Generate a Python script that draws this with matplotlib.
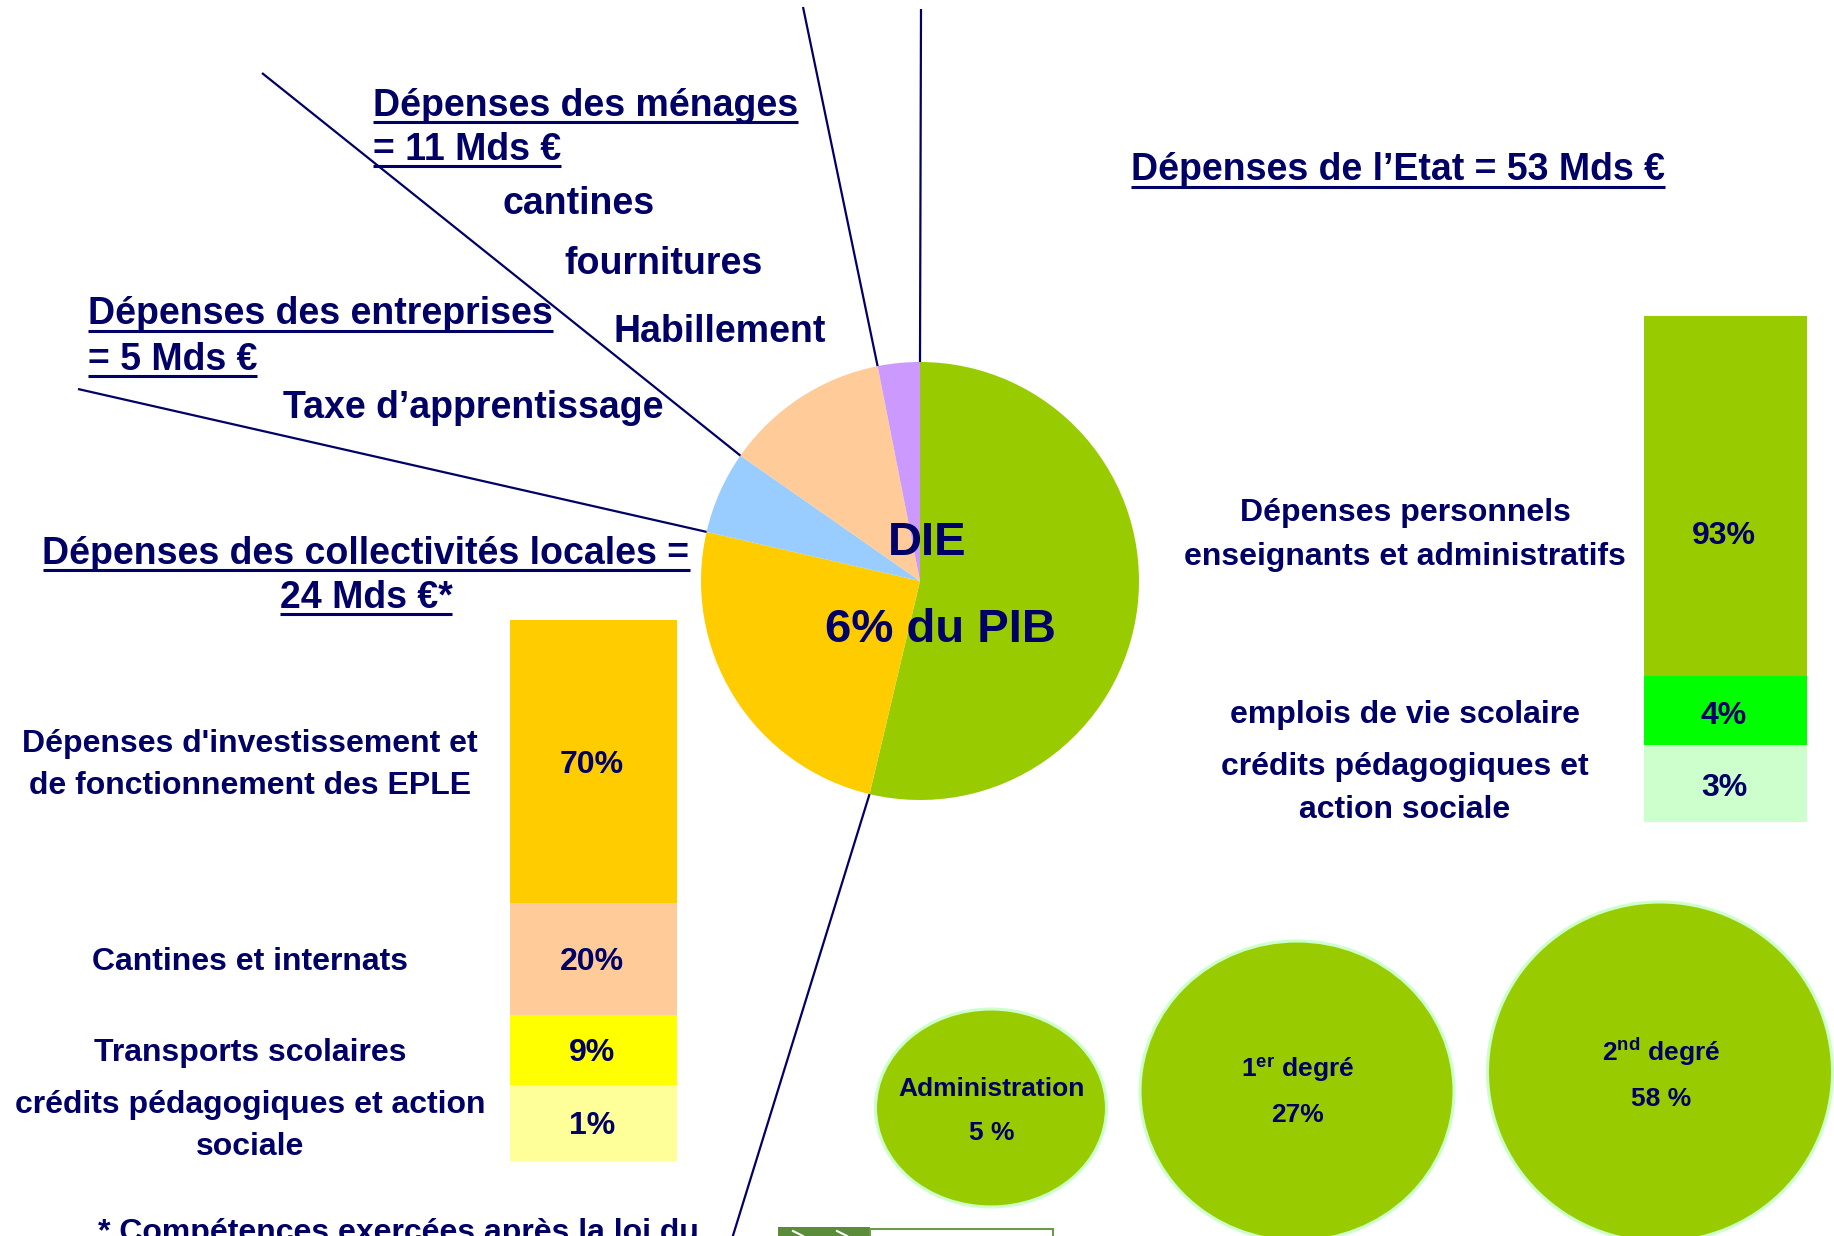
import math
import matplotlib
matplotlib.use('Agg')
import matplotlib.pyplot as plt
from matplotlib.patches import Ellipse, Rectangle

plt.rcParams['font.family'] = ['Liberation Sans', 'DejaVu Sans']
plt.rcParams['font.weight'] = 'bold'
plt.rcParams['mathtext.fontset'] = 'custom'
plt.rcParams['mathtext.rm'] = 'Liberation Sans:bold'
plt.rcParams['mathtext.it'] = 'Liberation Sans:bold'
plt.rcParams['mathtext.bf'] = 'Liberation Sans:bold'

NAVY = '#000066'
W, H = 1834, 1236

# pie: part of the DIE by funder (angles)
pie_names = ['Etat', 'Collectivités locales', 'Entreprises', 'Ménages', 'Autres']
pie_shares = [53.7, 24.9, 6.1, 12.2, 3.1]
pie_colors = ['#99CC00', '#FFCC00', '#99CCFF', '#FFCC99', '#CC99FF']

# collectivités locales breakdown
coll_labels = [["Dépenses d'investissement et", "de fonctionnement des EPLE"],
               ["Cantines et internats"],
               ["Transports scolaires"],
               ["crédits pédagogiques et action", "sociale"]]
coll_pct = ['70%', '20%', '9%', '1%']
coll_drawn = [52.3, 20.7, 12.9, 14.1]   # segment heights as drawn in the bar
coll_colors = ['#FFCC00', '#FFCC99', '#FFFF00', '#FFFF99']

# Etat breakdown
etat_labels = [["Dépenses personnels", "enseignants et administratifs"],
               ["emplois de vie scolaire"],
               ["crédits pédagogiques et", "action sociale"]]
etat_pct = ['93%', '4%', '3%']
etat_drawn = [71.2, 13.6, 15.2]
etat_colors = ['#99CC00', '#00FF00', '#CCFFCC']

# Etat by level
level_names = ['Administration', r'1$^{\rm er}$ degré', r'2$^{\rm nd}$ degré']
level_pct = ['5 %', '27%', '58 %']

# layout (pixels)
PIE_C, PIE_R = (920, 581), 219
level_ell = [(991, 1108, 231, 198), (1297, 1091, 314, 300), (1660, 1072, 345, 340)]
level_text_dy = [(-21, 23), (-23, 21), (-20, 25)]


def px_rect(x, y, w, h):
    return [x / W, 1 - (y + h) / H, w / W, h / H]


fig = plt.figure(figsize=(W / 100, H / 100), dpi=100)

# pie
axp = fig.add_axes(px_rect(PIE_C[0] - PIE_R, PIE_C[1] - PIE_R, 2 * PIE_R, 2 * PIE_R))
axp.pie(pie_shares, colors=pie_colors, startangle=90, counterclock=False,
        radius=1, wedgeprops=dict(linewidth=0))
axp.set_xlim(-1, 1)
axp.set_ylim(-1, 1)
axp.axis('off')


# stacked bars
def stacked(rect, drawn, colors):
    a = fig.add_axes(px_rect(*rect))
    bottom = 0
    mids = []
    for h, c in zip(drawn, colors):
        a.bar(0, h, bottom=bottom, width=1, color=c, linewidth=0)
        mids.append(bottom + h / 2)
        bottom += h
    a.set_xlim(-0.5, 0.5)
    a.set_ylim(bottom, 0)
    a.axis('off')
    return a, mids


axl, mids_l = stacked((510, 620, 167, 541), coll_drawn, coll_colors)
axr, mids_r = stacked((1644, 316, 163, 506), etat_drawn, etat_colors)

# overlay for texts and leader lines
ax = fig.add_axes([0, 0, 1, 1])
ax.set_xlim(0, W)
ax.set_ylim(H, 0)
ax.axis('off')
ax.patch.set_alpha(0)

under = []


def put(x, yc, s, size, ha='center', underline=False):
    em = size * 100 / 72
    yb = yc + 0.36 * em
    t = ax.text(x, yb, s, fontsize=size, ha=ha, va='baseline', color=NAVY,
                fontweight='bold')
    if underline:
        under.append((t, yb + 0.17 * em))
    return t


# leader lines from the slice borders
ends = [(731, 1242), (78, 389), (262, 73), (803, 7), (921, 9)]
ang = 90
bounds = []
for s in pie_shares:
    ang -= s * 3.6
    bounds.append(ang)
for a, (ex, ey) in zip(bounds, ends):
    sx = PIE_C[0] + PIE_R * math.cos(math.radians(a))
    sy = PIE_C[1] - PIE_R * math.sin(math.radians(a))
    ax.plot([sx, ex], [sy, ey], color=NAVY, lw=1.6, solid_capstyle='butt')

# headings
put(373, 102, "Dépenses des ménages", 27, ha='left', underline=True)
put(373, 146, "= 11 Mds €", 27, ha='left', underline=True)
put(88, 311, "Dépenses des entreprises", 27, ha='left', underline=True)
put(88, 356, "= 5 Mds €", 27, ha='left', underline=True)
put(366, 550, "Dépenses des collectivités locales =", 27, underline=True)
put(366, 594, "24 Mds €*", 27, underline=True)
put(1131, 167, "Dépenses de l’Etat = 53 Mds €", 27, ha='left', underline=True)

put(503, 200, "cantines", 27, ha='left')
put(564, 261, "fournitures", 27, ha='left')
put(613, 329, "Habillement", 27, ha='left')
put(283, 405, "Taxe d’apprentissage", 27, ha='left')

put(927, 538, "DIE", 34)
put(940, 625, "6% du PIB", 34)

# left bar labels
bar_top, bar_h = 620, 541
for lines, pct, m in zip(coll_labels, coll_pct, mids_l):
    yc = bar_top + m / sum(coll_drawn) * bar_h
    put(592, yc, pct, 23)
    n = len(lines)
    for i, s in enumerate(lines):
        off = (i - (n - 1) / 2) * 42 if n > 1 else 0
        put(250, yc + off, s, 23)

# right bar labels
etat_y = [532, 712, 784]
etat_label_y = [[510, 553], [712], [764, 806]]
for pct, y in zip(etat_pct, etat_y):
    put(1724, y, pct, 23)
for lines, ys in zip(etat_labels, etat_label_y):
    for s, y in zip(lines, ys):
        put(1405, y, s, 23)

# level ellipses
for (cx, cy, w, h), name, pct, (d1, d2) in zip(level_ell, level_names,
                                                level_pct, level_text_dy):
    ax.add_patch(Ellipse((cx, cy), w, h, facecolor='#99CC00',
                         edgecolor='#CCFFCC', lw=2.2))
    put(cx + 1, cy + d1, name, 19)
    put(cx + 1, cy + d2, pct, 19)

# footnote (cut off at the bottom edge, as in the source)
ax.text(98, 1241, "* Compétences exercées après la loi du", fontsize=23,
        ha='left', va='baseline', color=NAVY, fontweight='bold')

# small logo box at the bottom
ax.add_patch(Rectangle((778, 1227), 92, 15, facecolor='#5B8C3A', lw=0))
ax.add_patch(Rectangle((870, 1229), 183, 12, facecolor='white',
                       edgecolor='#6A9A4A', lw=1.5))
for x0 in (793, 837):
    ax.plot([x0, x0 + 10], [1231, 1236], color='white', lw=1.5)

# underlines
fig.canvas.draw()
r = fig.canvas.get_renderer()
inv = ax.transData.inverted()
for t, yu in under:
    bb = t.get_window_extent(r)
    x0, _ = inv.transform((bb.x0, bb.y0))
    x1, _ = inv.transform((bb.x1, bb.y0))
    ax.plot([x0, x1], [yu, yu], color=NAVY, lw=2.2, solid_capstyle='butt')

fig.savefig('out.png', dpi=100)
